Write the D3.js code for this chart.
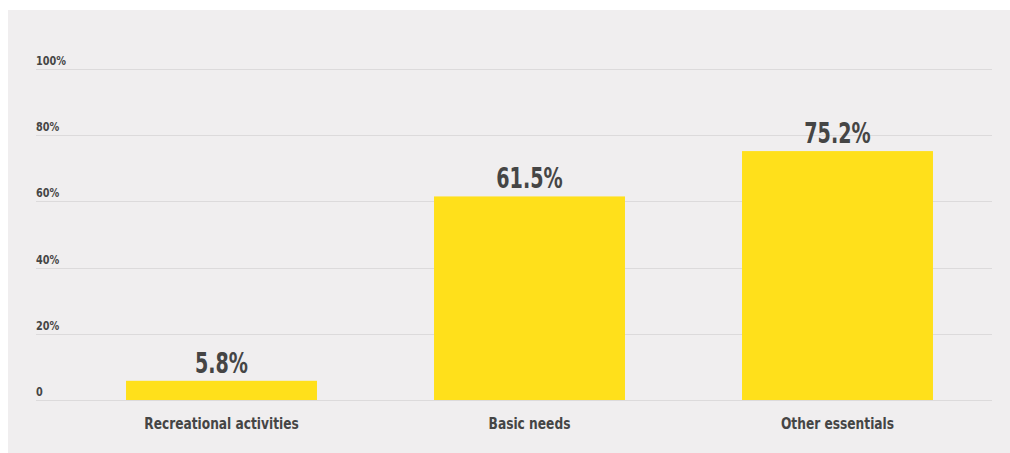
<!DOCTYPE html>
<html lang="en">
<head>
<meta charset="UTF-8">
<script src="https://d3js.org/d3.v7.min.js"></script>
<style>
  body { margin: 0; background: #fff; }
  svg text { font-family: "Liberation Sans Narrow", "DejaVu Sans Condensed", sans-serif; font-weight: bold; fill: #454545; }
</style>
</head>
<body>
<script>
var categories = ["Recreational activities", "Basic needs", "Other essentials"]
var values = [5.8, 61.5, 75.2]
var yTicks = [0, 20, 40, 60, 80, 100]
var yTickLabels = ["0", "20%", "40%", "60%", "80%", "100%"]

var width = 1010, height = 453
var svg = d3.select("body").append("svg")
    .attr("width", width)
    .attr("height", height)

// grey panel
svg.append("rect")
    .attr("x", 8).attr("y", 10)
    .attr("width", width - 8).attr("height", height - 10)
    .attr("fill", "#f0eeef")

var gridLeft = 36, gridRight = 992
var y = d3.scaleLinear().domain([0, 100]).range([400, 69])
var x = d3.scaleBand().domain(categories)
    .range([67.5, 991.5])
    .paddingInner(0.38)
    .paddingOuter(0.19)

// the original face is narrower than DejaVu Condensed, squeeze it a bit
function squeeze(sx) {
    return function (sel) {
        sel.attr("transform", function () {
            var tx = +this.getAttribute("x"), ty = +this.getAttribute("y")
            return "translate(" + tx + "," + ty + ") scale(" + sx + ",1)"
        }).attr("x", 0).attr("y", 0)
    }
}

// grid + tick labels
var ticks = svg.append("g").selectAll("g")
    .data(yTicks)
    .enter().append("g")
    .attr("transform", function (d) { return "translate(0," + Math.round(y(d)) + ")" })
ticks.append("line")
    .attr("x1", gridLeft).attr("x2", gridRight)
    .attr("y1", 0.5).attr("y2", 0.5)
    .attr("stroke", "#dcdadb")
    .attr("stroke-width", 1)
ticks.append("text")
    .attr("x", gridLeft)
    .attr("y", -4)
    .attr("font-size", 12)
    .text(function (d, i) { return yTickLabels[i] })
    .call(squeeze(0.9))

// bars
svg.append("g").selectAll("rect")
    .data(values)
    .enter().append("rect")
    .attr("x", function (d, i) { return x(categories[i]) })
    .attr("y", function (d) { return y(d) })
    .attr("width", x.bandwidth())
    .attr("height", function (d) { return y(0) - y(d) })
    .attr("fill", "#ffe01b")

// value labels
svg.append("g").selectAll("text")
    .data(values)
    .enter().append("text")
    .attr("x", function (d, i) { return x(categories[i]) + x.bandwidth() / 2 })
    .attr("y", function (d) { return y(d) - 8 })
    .attr("text-anchor", "middle")
    .attr("font-size", 28)
    .text(function (d) { return d.toFixed(1) + "%" })
    .call(squeeze(0.76))

// category labels
svg.append("g").selectAll("text")
    .data(categories)
    .enter().append("text")
    .attr("x", function (d) { return x(d) + x.bandwidth() / 2 })
    .attr("y", 429)
    .attr("text-anchor", "middle")
    .attr("font-size", 16)
    .text(function (d) { return d })
    .call(squeeze(0.85))
</script>
</body>
</html>
